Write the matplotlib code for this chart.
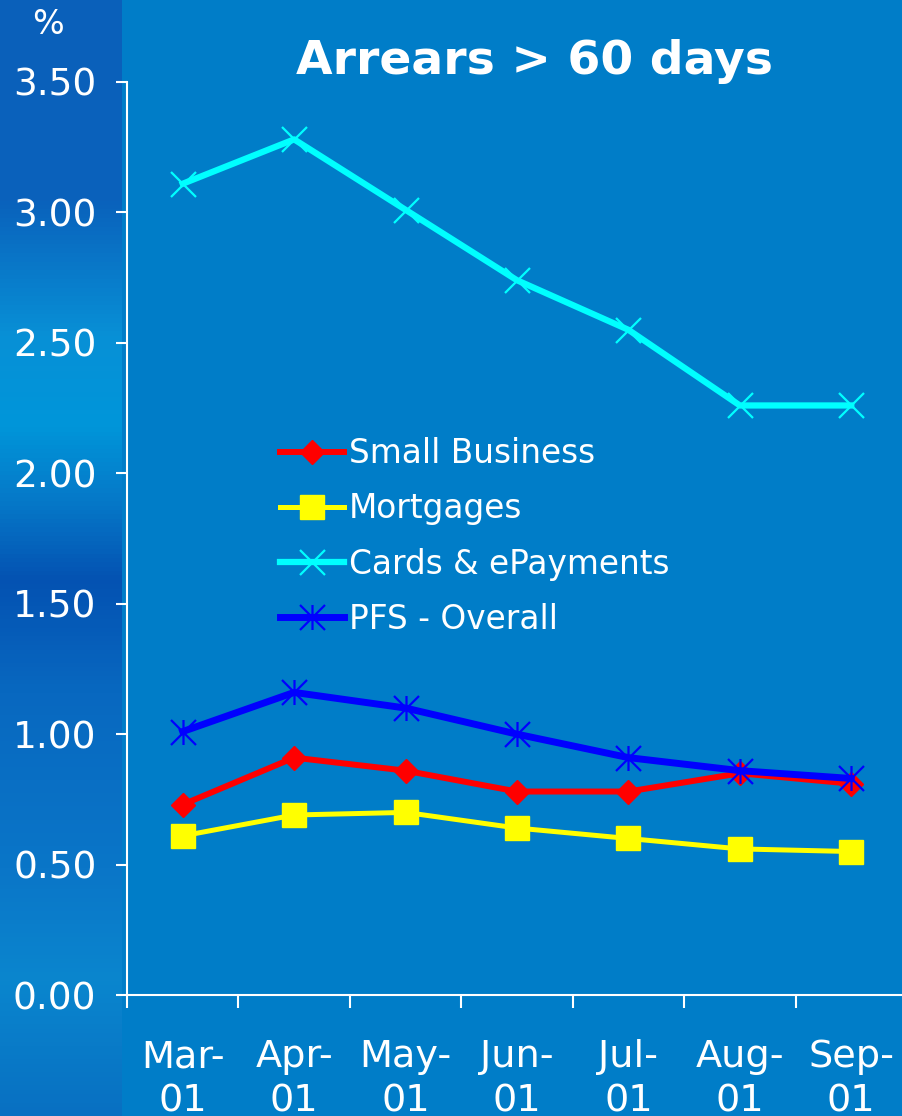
import matplotlib
matplotlib.use('Agg')
import matplotlib.pyplot as plt
import numpy as np
from matplotlib.path import Path
from matplotlib.colors import LinearSegmentedColormap

months = ['Mar-\n01', 'Apr-\n01', 'May-\n01', 'Jun-\n01', 'Jul-\n01', 'Aug-\n01', 'Sep-\n01']
small_business = [0.73, 0.91, 0.86, 0.78, 0.78, 0.85, 0.81]
mortgages = [0.61, 0.69, 0.70, 0.64, 0.60, 0.56, 0.55]
cards = [3.11, 3.28, 3.01, 2.74, 2.55, 2.26, 2.26]
pfs_overall = [1.01, 1.16, 1.10, 1.00, 0.91, 0.86, 0.83]
y_ticks = [0.0, 0.5, 1.0, 1.5, 2.0, 2.5, 3.0, 3.5]

BG = '#007DC8'
W, H = 902, 1116

fig = plt.figure(figsize=(W / 100, H / 100), dpi=100, facecolor=BG)

# textured strip on the left edge (just decoration)
strip = fig.add_axes([0, 0, 122 / W, 1])
strip.axis('off')
cmap = LinearSegmentedColormap.from_list('strip', [
    (0.00, '#0A60BA'), (0.18, '#0A62BC'), (0.30, '#0890D6'),
    (0.38, '#0096DA'), (0.45, '#0678C8'), (0.52, '#0452B2'),
    (0.62, '#0868C0'), (0.78, '#0A76C8'), (0.88, '#0A86CE'), (1.00, '#0870C2')])
grad = np.linspace(0, 1, 256).reshape(-1, 1)
strip.imshow(grad, aspect='auto', cmap=cmap, extent=[0, 1, 1, 0])
strip.set_xlim(0, 1)
strip.set_ylim(1, 0)

ax = fig.add_axes([127 / W, 1 - 995 / H, 780 / W, 913 / H])
ax.set_facecolor(BG)

# asterisk: vertical bar plus a corner-to-corner X
ast = Path([(0, -1), (0, 1), (-1, -1), (1, 1), (-1, 1), (1, -1)],
           [Path.MOVETO, Path.LINETO, Path.MOVETO, Path.LINETO, Path.MOVETO, Path.LINETO])

x = np.arange(len(months))
ax.plot(x, small_business, color='#FF0000', lw=4.3, marker='D', ms=12.5,
        mec='#FF0000', label='Small Business')
ax.plot(x, mortgages, color='#FFFF00', lw=3.6, marker='s', ms=17,
        mec='#FFFF00', label='Mortgages')
ax.plot(x, cards, color='#00FFFF', lw=4.5, marker='x', ms=18, mew=1.6,
        label='Cards & ePayments')
ax.plot(x, pfs_overall, color='#0000FF', lw=5, marker=ast, ms=18, mew=1.6,
        label='PFS - Overall')

ax.set_xlim(-0.5, 6.5)
ax.set_ylim(0, 3.5)
ax.set_yticks(y_ticks)
ax.set_yticklabels(['%.2f' % v for v in y_ticks])
ax.set_xticks(x)
ax.set_xticklabels(months, linespacing=1.3)
ax.set_xticks(np.arange(-0.5, 7, 1), minor=True)

for s in ['top', 'right']:
    ax.spines[s].set_visible(False)
for s in ['left', 'bottom']:
    ax.spines[s].set_color('white')
    ax.spines[s].set_linewidth(1.5)

ax.tick_params(axis='y', colors='white', labelsize=27, length=8, width=1.5,
               direction='out', pad=14)
ax.tick_params(axis='x', which='major', length=0, colors='white', labelsize=27.5, pad=32)
ax.tick_params(axis='x', which='minor', length=9, width=1.5, color='white', direction='out')

leg = ax.legend(loc='upper left', bbox_to_anchor=(280 / W, 1 - 437 / H),
                bbox_transform=fig.transFigure, frameon=False, fontsize=23.6,
                handlelength=1.95, handletextpad=0.15, labelspacing=0.68,
                borderpad=0, borderaxespad=0)
for t in leg.get_texts():
    t.set_color('white')

fig.text(534 / W, 1 - 61 / H, 'Arrears > 60 days', color='white', fontsize=34,
         fontweight='bold', ha='center', va='center')
fig.text(48 / W, 1 - 24 / H, '%', color='white', fontsize=24, ha='center', va='center')

fig.savefig('out.png', dpi=100, facecolor=BG)
